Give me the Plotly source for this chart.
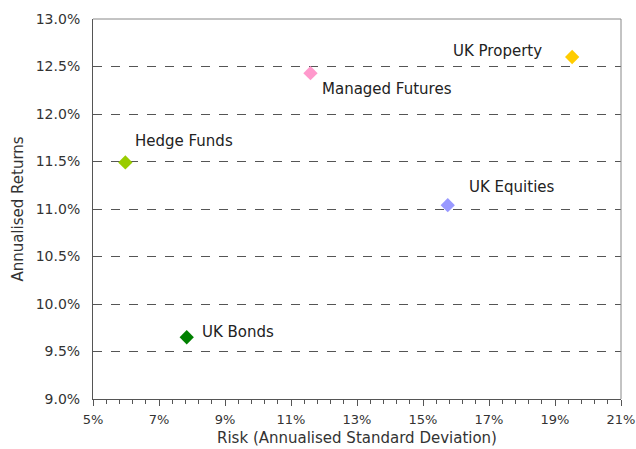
import plotly.graph_objects as go

assets = ["Hedge Funds", "Managed Futures", "UK Property", "UK Equities", "UK Bonds"]
risk = [0.0598, 0.1159, 0.1952, 0.1575, 0.0784]
returns = [0.1149, 0.1243, 0.1260, 0.1104, 0.0965]
colors = ["#99CC00", "#FF99CC", "#FFCC00", "#9999FF", "#008000"]
# label placement: (xanchor, xshift, yshift)
label_pos = [("left", 8, 21), ("left", 10, -16), ("right", -28, 6), ("left", 19, 18), ("left", 13, 5)]

FONT = "DejaVu Sans"
fig = go.Figure()
for name, x, y, c in zip(assets, risk, returns, colors):
    fig.add_trace(go.Scatter(x=[x], y=[y], mode="markers", name=name,
                             marker=dict(symbol="diamond", size=11, color=c),
                             showlegend=False))

for name, x, y, (xa, xs, ys) in zip(assets, risk, returns, label_pos):
    fig.add_annotation(x=x, y=y, text=name, showarrow=False, xanchor=xa, yanchor="middle",
                       xshift=xs, yshift=ys, font=dict(family=FONT, size=15, color="#222"))

fig.update_xaxes(range=[0.05, 0.2100001], dtick=0.02, tick0=0.05, tickformat=".0%",
                 showgrid=False, zeroline=False, showline=True, linecolor="#555", linewidth=1,
                 ticks="outside", ticklen=6, tickcolor="#555", automargin=False,
                 ticklabelstandoff=2, ticklabeloverflow="allow",
                 minor=dict(dtick=0.004, tick0=0.05, ticks="outside", ticklen=4, tickcolor="#555", showgrid=False),
                 title=dict(text="Risk (Annualised Standard Deviation)", font=dict(family=FONT, size=15, color="#333"), standoff=6),
                 tickfont=dict(family=FONT, size=13, color="#333"))
fig.update_yaxes(range=[0.09, 0.13], dtick=0.005, tickformat=".1%",
                 showgrid=True, gridcolor="#555", griddash="dash", gridwidth=1,
                 zeroline=False, showline=True, linecolor="#555", linewidth=1, ticks="",
                 automargin=False, ticklabelstandoff=9, ticklabeloverflow="allow",
                 title=dict(text="Annualised Returns", font=dict(family=FONT, size=15, color="#333"), standoff=8),
                 tickfont=dict(family=FONT, size=14, color="#333"))

# top and right frame lines
fig.add_shape(type="line", xref="paper", yref="paper", x0=0, y0=1, x1=1, y1=1,
              line=dict(color="#888", width=1), layer="above")
fig.add_shape(type="line", xref="paper", yref="paper", x0=1, y0=0, x1=1, y1=1,
              line=dict(color="#888", width=1), layer="above")

fig.update_layout(width=636, height=449, margin=dict(l=93, r=15, t=19, b=50),
                  plot_bgcolor="white", paper_bgcolor="white",
                  font=dict(family=FONT, color="#333"))
fig.write_html("out.html", config={"displayModeBar": False},
               post_script="document.body.style.margin='0';")
